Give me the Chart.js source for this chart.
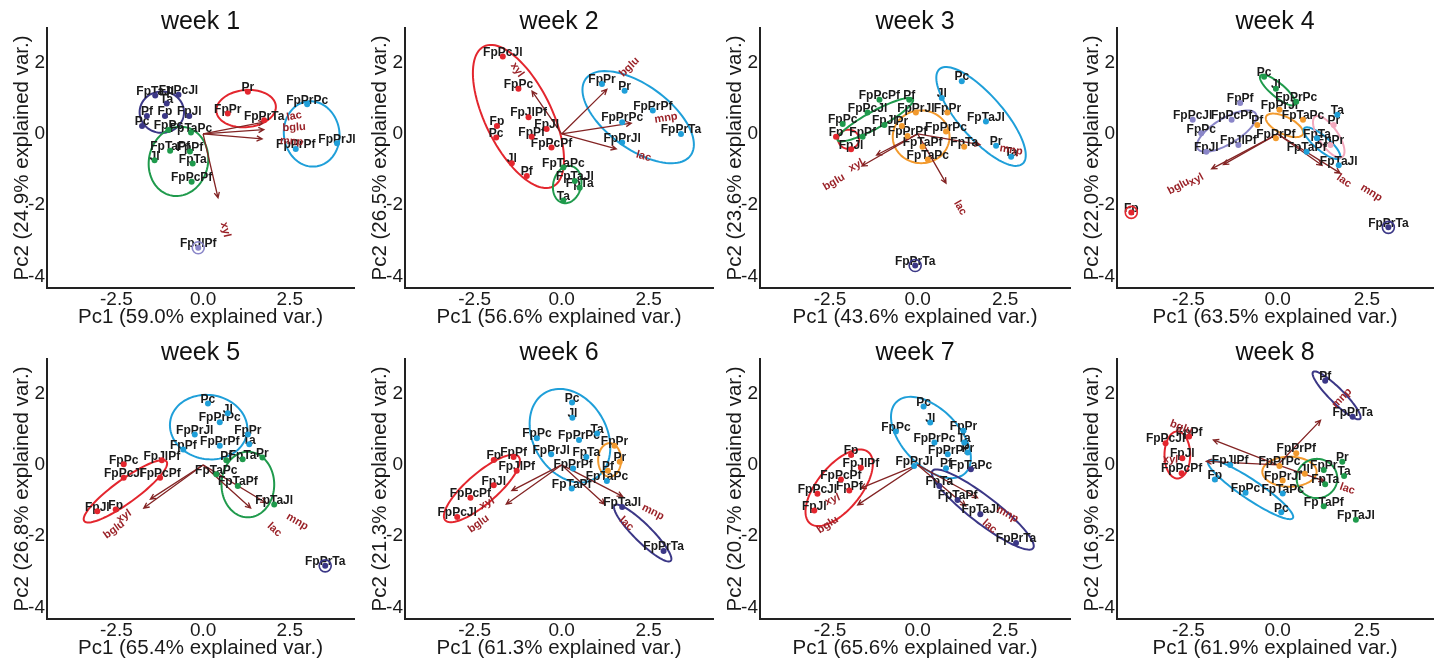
<!DOCTYPE html>
<html>
<head>
<meta charset="utf-8">
<script src="https://cdn.jsdelivr.net/npm/chart.js@4.4.1/dist/chart.umd.min.js"></script>
<style>
  html, body { margin: 0; padding: 0; background: #fff; }
  #figure { position: relative; width: 1437px; height: 661px; overflow: hidden; }
  #figure canvas { position: absolute; }
</style>
</head>
<body>
<div id="figure"></div>
<script>
// panel titles and explained variance
const weeks = ['week 1', 'week 2', 'week 3', 'week 4', 'week 5', 'week 6', 'week 7', 'week 8'];
const pc1Var = ['59.0', '56.6', '43.6', '63.5', '65.4', '61.3', '65.6', '61.9'];
const pc2Var = ['24.9', '26.5', '23.6', '22.0', '26.8', '21.3', '20.7', '16.9'];
const xTicks = [-2.5, 0, 2.5];
const yTicks = [-4, -2, 0, 2];

// samples: [label, cluster, Pc1, Pc2]
const week1Samples = [
  ['FpTaJl', 'k4', -1.38, 1.08], ['FpPcJl', 'k4', -0.71, 1.10], ['Ta', 'k4', -1.05, 0.85],
  ['Pf', 'k4', -1.62, 0.50], ['Fp', 'k4', -1.10, 0.50], ['FpJl', 'k4', -0.40, 0.50], ['Pc', 'k4', -1.76, 0.22],
  ['FpPc', 'k3', -1.00, 0.11], ['FpTaPc', 'k3', -0.35, 0.04], ['FpTaPf', 'k3', -0.95, -0.47],
  ['FpPf', 'k3', -0.38, -0.49], ['Jl', 'k3', -1.40, -0.74], ['FpTa', 'k3', -0.30, -0.83], ['FpPcPf', 'k3', -0.33, -1.34],
  ['Pr', 'k1', 1.29, 1.18], ['FpPr', 'k1', 0.71, 0.57], ['FpPrTa', 'k1', 1.76, 0.38],
  ['FpPrPc', 'k2', 3.00, 0.83], ['FpPrPf', 'k2', 2.67, -0.42], ['FpPrJl', 'k2', 3.86, -0.26],
  ['FpJlPf', 'k6', -0.14, -3.19]
];
const week2Samples = [
  ['FpPcJl', 'k1', -1.69, 2.17], ['FpPc', 'k1', -1.24, 1.27], ['FpJlPf', 'k1', -0.95, 0.47],
  ['Fp', 'k1', -1.86, 0.22], ['Pc', 'k1', -1.88, -0.10], ['FpJl', 'k1', -0.43, 0.14], ['FpPf', 'k1', -0.86, -0.08],
  ['FpPcPf', 'k1', -0.29, -0.38], ['Jl', 'k1', -1.43, -0.82], ['Pf', 'k1', -1.00, -1.18],
  ['FpTaPc', 'k3', 0.05, -0.94], ['FpTaJl', 'k3', 0.38, -1.32], ['FpTa', 'k3', 0.52, -1.51], ['Ta', 'k3', 0.05, -1.87],
  ['FpPr', 'k2', 1.16, 1.40], ['Pr', 'k2', 1.81, 1.21], ['FpPrPc', 'k2', 1.74, 0.33],
  ['FpPrPf', 'k2', 2.62, 0.66], ['FpPrJl', 'k2', 1.74, -0.24], ['FpPrTa', 'k2', 3.43, 0.00]
];
const week3Samples = [
  ['Fp', 'k1', -2.33, -0.08], ['FpJl', 'k1', -1.90, -0.43],
  ['FpPcPf', 'k3', -1.09, 0.96], ['Pf', 'k3', -0.24, 0.96], ['FpPcJl', 'k3', -1.43, 0.60], ['FpPc', 'k3', -2.14, 0.28],
  ['FpJl', 'k3', -0.95, 0.25], ['FpPf', 'k3', -1.57, -0.08],
  ['FpPrJl', 'k5', -0.05, 0.60], ['FpPr', 'k5', 0.85, 0.60], ['Pr', 'k5', -0.45, 0.22], ['FpPrPc', 'k5', 0.81, 0.07],
  ['FpPrPf', 'k5', -0.29, -0.06], ['FpTaPf', 'k5', 0.14, -0.36], ['FpTa', 'k5', 1.33, -0.36], ['FpTaPc', 'k5', 0.29, -0.72],
  ['Pc', 'k2', 1.26, 1.48], ['Jl', 'k2', 0.69, 1.01], ['FpTaJl', 'k2', 1.95, 0.35], ['Pr', 'k2', 2.24, -0.33], ['Ta', 'k2', 2.67, -0.64],
  ['FpPrTa', 'k4', -0.07, -3.69]
];
const week4Samples = [
  ['Pc', 'k3', -0.38, 1.60], ['Jl', 'k3', -0.05, 1.27], ['FpPrPc', 'k3', 0.52, 0.90],
  ['FpPf', 'k6', -1.05, 0.87], ['FpPcJl', 'k6', -2.38, 0.40], ['FpPcPf', 'k6', -1.29, 0.40],
  ['FpPc', 'k6', -2.14, 0.02], ['FpJl', 'k6', -2.00, -0.50], ['FpJlPf', 'k6', -1.10, -0.31],
  ['FpPrJl', 'k5', 0.05, 0.68], ['Pf', 'k5', -0.57, 0.25], ['FpPrPf', 'k5', -0.05, -0.12], ['FpTaPc', 'k5', 0.71, 0.40],
  ['Ta', 'k2', 1.67, 0.54], ['FpTa', 'k2', 1.10, -0.12], ['FpTaPf', 'k2', 0.81, -0.50], ['FpTaJl', 'k2', 1.71, -0.88],
  ['Pr', 'k7', 1.57, 0.25], ['FpPr', 'k7', 1.48, -0.31],
  ['Fp', 'k1', -4.10, -2.20], ['FpPrTa', 'k4', 3.10, -2.62]
];
const week5Samples = [
  ['Pc', 'k2', 0.14, 1.72], ['Jl', 'k2', 0.71, 1.45], ['FpPrPc', 'k2', 0.48, 1.20], ['FpPr', 'k2', 1.29, 0.85],
  ['FpPrJl', 'k2', -0.24, 0.85], ['Ta', 'k2', 1.33, 0.58], ['FpPrPf', 'k2', 0.48, 0.54], ['FpPf', 'k2', -0.57, 0.43],
  ['Pf', 'k3', 0.67, 0.13], ['FpTa', 'k3', 1.14, 0.16], ['Pr', 'k3', 1.71, 0.21], ['FpTaPc', 'k3', 0.38, -0.26],
  ['FpTaPf', 'k3', 1.00, -0.59], ['FpTaJl', 'k3', 2.05, -1.11],
  ['FpPc', 'k1', -2.29, 0.02], ['FpJlPf', 'k1', -1.19, 0.13], ['FpPcJl', 'k1', -2.29, -0.36],
  ['FpPcPf', 'k1', -1.24, -0.36], ['FpJl', 'k1', -3.05, -1.30], ['Fp', 'k1', -2.52, -1.25],
  ['FpPrTa', 'k4', 3.52, -2.83]
];
const week6Samples = [
  ['Pc', 'k2', 0.30, 1.75], ['Jl', 'k2', 0.31, 1.32], ['FpPc', 'k2', -0.71, 0.75], ['FpPrPc', 'k2', 0.50, 0.70],
  ['Ta', 'k2', 1.02, 0.88], ['FpPrJl', 'k2', -0.30, 0.30], ['FpTa', 'k2', 0.71, 0.22], ['FpPrPf', 'k2', 0.33, -0.10],
  ['FpTaPf', 'k2', 0.29, -0.66], ['FpTaPc', 'k2', 1.30, -0.45],
  ['FpPr', 'k5', 1.52, 0.54], ['Pr', 'k5', 1.67, 0.09], ['Pf', 'k5', 1.33, -0.16],
  ['Fp', 'k1', -1.95, 0.14], ['FpPf', 'k1', -1.38, 0.22], ['FpJlPf', 'k1', -1.29, -0.16],
  ['FpJl', 'k1', -1.95, -0.57], ['FpPcPf', 'k1', -2.62, -0.92], ['FpPcJl', 'k1', -3.00, -1.46],
  ['FpTaJl', 'k4', 1.74, -1.18], ['FpPrTa', 'k4', 2.93, -2.41]
];
const week7Samples = [
  ['Pc', 'k2', 0.17, 1.64], ['Jl', 'k2', 0.36, 1.19], ['FpPr', 'k2', 1.31, 0.96], ['FpPc', 'k2', -0.62, 0.94],
  ['FpPrPc', 'k2', 0.48, 0.63], ['Ta', 'k2', 1.33, 0.63], ['FpPrPf', 'k2', 0.86, 0.30], ['Pr', 'k2', 1.43, 0.35],
  ['Pf', 'k2', 0.81, -0.09], ['FpPrJl', 'k2', -0.10, -0.03],
  ['FpTaPc', 'k4', 1.52, -0.12], ['FpTa', 'k4', 0.62, -0.59], ['FpTaPf', 'k4', 1.14, -0.98],
  ['FpTaJl', 'k4', 1.79, -1.38], ['FpPrTa', 'k4', 2.81, -2.19],
  ['Fp', 'k1', -1.90, 0.28], ['FpJlPf', 'k1', -1.62, -0.08], ['FpPcPf', 'k1', -2.19, -0.41],
  ['FpPcJl', 'k1', -2.86, -0.81], ['FpPf', 'k1', -1.95, -0.72], ['FpJl', 'k1', -2.95, -1.28]
];
const week8Samples = [
  ['Pf', 'k4', 1.33, 2.36], ['FpPrTa', 'k4', 2.10, 1.35],
  ['FpPf', 'k1', -2.48, 0.80], ['FpPcJl', 'k1', -3.14, 0.61], ['FpJl', 'k1', -2.67, 0.19], ['FpPcPf', 'k1', -2.69, -0.23],
  ['FpJlPf', 'k2', -1.33, 0.00], ['Fp', 'k2', -1.76, -0.41], ['FpPc', 'k2', -0.90, -0.78],
  ['FpTaPc', 'k2', 0.14, -0.80], ['Pc', 'k2', 0.10, -1.33],
  ['FpPrPf', 'k5', 0.52, 0.33], ['FpPrPc', 'k5', 0.05, -0.03], ['FpPrJl', 'k5', 0.14, -0.44], ['Jl', 'k5', 0.76, -0.25],
  ['FpPr', 'k3', 1.29, -0.14], ['Pr', 'k3', 1.81, 0.09], ['Ta', 'k3', 1.86, -0.31], ['FpTa', 'k3', 1.33, -0.54],
  ['FpTaPf', 'k3', 1.29, -1.16], ['FpTaJl', 'k3', 2.19, -1.54]
];

// cluster ellipses: [cluster, centre Pc1, centre Pc2, semi-axis a, semi-axis b, angle deg]
const week1Ellipses = [['k4', -1.19, 0.61, 0.64, 0.58, 0], ['k3', -0.71, -0.77, 0.98, 0.85, 75],
  ['k1', 1.24, 0.71, 0.86, 0.52, 5], ['k2', 3.13, 0.00, 0.92, 0.80, 100]];
const week2Ellipses = [['k1', -1.24, 0.49, 2.20, 0.95, -63], ['k3', 0.16, -1.42, 0.53, 0.40, 75],
  ['k2', 2.20, 0.47, 1.85, 0.90, -35]];
const week3Ellipses = [['k1', -1.97, -0.15, 0.30, 0.27, 0], ['k3', -1.21, 0.40, 1.22, 0.24, 28],
  ['k5', 0.10, -0.08, 0.81, 0.74, 0], ['k2', 1.81, 0.49, 1.78, 0.62, -48]];
const week4Ellipses = [['k3', 0.00, 1.23, 0.63, 0.19, -40], ['k6', -1.43, 0.08, 0.95, 0.36, 31],
  ['k5', 0.19, 0.24, 0.57, 0.24, -26], ['k2', 1.24, -0.26, 0.65, 0.20, -40], ['k7', 1.43, -0.08, 0.68, 0.27, -56]];
const week5Ellipses = [['k2', 0.16, 1.06, 1.12, 0.90, -8], ['k3', 1.29, -0.55, 0.76, 0.92, 0],
  ['k1', -2.24, -0.74, 1.45, 0.33, 35]];
const week6Ellipses = [['k2', 0.24, 0.82, 1.40, 1.05, -58], ['k5', 1.38, 0.14, 0.33, 0.47, 0],
  ['k1', -2.29, -0.66, 1.38, 0.43, 40], ['k4', 2.33, -1.91, 1.12, 0.25, -44]];
const week7Ellipses = [['k2', 0.38, 0.77, 1.40, 0.80, -45], ['k4', 1.86, -1.25, 1.80, 0.38, -37],
  ['k1', -2.24, -0.64, 1.30, 0.62, 50]];
const week8Ellipses = [['k4', 1.65, 1.95, 0.93, 0.20, -45], ['k1', -2.81, 0.28, 0.36, 0.66, 0],
  ['k2', -0.76, -0.69, 1.43, 0.27, -34], ['k5', 0.33, -0.19, 0.76, 0.42, 0], ['k3', 1.10, -0.38, 0.57, 0.55, 0]];

// variable loadings: [variable, Pc1, Pc2]
const week1Loadings = [['lac', 1.75, 0.33], ['bglu', 1.75, 0.12], ['mnp', 1.70, -0.14], ['xyl', 0.43, -1.79]];
const week2Loadings = [['bglu', 1.30, 1.25], ['xyl', -0.85, 1.20], ['mnp', 2.00, 0.30], ['lac', 1.57, -0.42]];
const week3Loadings = [['bglu', -1.59, -0.90], ['xyl', -1.17, -0.59], ['lac', 0.81, -1.38], ['mnp', 1.78, -0.30]];
const week4Loadings = [['bglu', -1.85, -0.98], ['xyl', -1.52, -0.86], ['lac', 1.24, -0.88], ['mnp', 1.75, -1.10]];
const week5Loadings = [['bglu', -1.71, -1.21], ['xyl', -1.52, -0.96], ['mnp', 1.81, -1.06], ['lac', 1.37, -1.21]];
const week6Loadings = [['bglu', -1.59, -1.10], ['xyl', -1.43, -0.72], ['mnp', 1.75, -0.88], ['lac', 1.24, -1.10]];
const week7Loadings = [['bglu', -1.71, -1.12], ['xyl', -1.62, -0.65], ['mnp', 1.71, -0.92], ['lac', 1.37, -1.15]];
const week8Loadings = [['bglu', -1.80, 0.70], ['xyl', -2.00, 0.10], ['mnp', 1.20, 1.25], ['lac', 1.30, -0.45]];

const samplesByWeek = [week1Samples, week2Samples, week3Samples, week4Samples,
  week5Samples, week6Samples, week7Samples, week8Samples];
const ellipsesByWeek = [week1Ellipses, week2Ellipses, week3Ellipses, week4Ellipses,
  week5Ellipses, week6Ellipses, week7Ellipses, week8Ellipses];
const loadingsByWeek = [week1Loadings, week2Loadings, week3Loadings, week4Loadings,
  week5Loadings, week6Loadings, week7Loadings, week8Loadings];

const clusterColors = {
  k1: '#e3262e', k2: '#1f9fd9', k3: '#1f9a4c', k4: '#3b3786',
  k5: '#f29a2e', k6: '#8a86c8', k7: '#f2a8bd'
};
const FONT = '"Liberation Sans", Arial, Helvetica, sans-serif';
const ARROW = '#832424';
const VARLABEL = '#9a2228';
const INK = '#1a1a1a';

const panelLeft = [2, 360, 715, 1072];
const panelWidth = [356, 357, 359, 365];
const rowTop = [0, 331];

// ellipses, loading arrows and text labels drawn through the chart scales
function makeLayers(samples, ellipses, loadings) {
  const counts = {};
  samples.forEach(s => { counts[s[1]] = (counts[s[1]] || 0) + 1; });
  return {
    id: 'biplotLayers',
    beforeDatasetsDraw(chart) {
      const { ctx, scales: { x, y } } = chart;
      ctx.save();
      ctx.lineWidth = 2;
      ellipses.forEach(([k, cx, cy, a, b, deg]) => {
        const t = deg * Math.PI / 180;
        ctx.beginPath();
        for (let i = 0; i <= 96; i++) {
          const u = i / 96 * Math.PI * 2;
          const ex = cx + a * Math.cos(u) * Math.cos(t) - b * Math.sin(u) * Math.sin(t);
          const ey = cy + a * Math.cos(u) * Math.sin(t) + b * Math.sin(u) * Math.cos(t);
          const px = x.getPixelForValue(ex), py = y.getPixelForValue(ey);
          if (i === 0) ctx.moveTo(px, py); else ctx.lineTo(px, py);
        }
        ctx.closePath();
        ctx.strokeStyle = clusterColors[k];
        ctx.stroke();
      });

      const ox = x.getPixelForValue(0), oy = y.getPixelForValue(0);
      ctx.strokeStyle = ARROW;
      ctx.lineWidth = 1.3;
      loadings.forEach(([name, lx, ly]) => {
        const tx = x.getPixelForValue(lx), ty = y.getPixelForValue(ly);
        const ang = Math.atan2(ty - oy, tx - ox);
        ctx.beginPath();
        ctx.moveTo(ox, oy);
        ctx.lineTo(tx, ty);
        ctx.moveTo(tx - 6 * Math.cos(ang - 0.45), ty - 6 * Math.sin(ang - 0.45));
        ctx.lineTo(tx, ty);
        ctx.lineTo(tx - 6 * Math.cos(ang + 0.45), ty - 6 * Math.sin(ang + 0.45));
        ctx.stroke();
      });

      ctx.font = 'bold 12px ' + FONT;
      ctx.textAlign = 'center';
      ctx.textBaseline = 'middle';
      ctx.fillStyle = INK;
      samples.forEach(([name, k, sx, sy]) => {
        ctx.fillText(name, x.getPixelForValue(sx), y.getPixelForValue(sy) - 4);
      });

      ctx.font = 'bold 11px ' + FONT;
      ctx.fillStyle = VARLABEL;
      loadings.forEach(([name, lx, ly]) => {
        const tx = x.getPixelForValue(lx), ty = y.getPixelForValue(ly);
        const px = x.getPixelForValue(lx * 1.5), py = y.getPixelForValue(ly * 1.5);
        ctx.save();
        ctx.translate(px, py);
        ctx.rotate(Math.atan((ty - oy) / (tx - ox)));
        ctx.fillText(name, 0, 0);
        ctx.restore();
      });
      ctx.restore();
    },
    afterDatasetsDraw(chart) {
      const { ctx, scales: { x, y } } = chart;
      ctx.save();
      ctx.lineWidth = 1.6;
      samples.filter(s => counts[s[1]] === 1).forEach(([name, k, sx, sy]) => {
        ctx.beginPath();
        ctx.arc(x.getPixelForValue(sx), y.getPixelForValue(sy), 6, 0, Math.PI * 2);
        ctx.strokeStyle = clusterColors[k];
        ctx.stroke();
      });
      ctx.restore();
    }
  };
}

const fig = document.getElementById('figure');

weeks.forEach((title, i) => {
  const col = i % 4, row = Math.floor(i / 4);
  const canvas = document.createElement('canvas');
  canvas.width = panelWidth[col];
  canvas.height = 330;
  canvas.style.left = panelLeft[col] + 'px';
  canvas.style.top = rowTop[row] + 'px';
  fig.appendChild(canvas);

  const samples = samplesByWeek[i];
  const clusters = [...new Set(samples.map(s => s[1]))];

  new Chart(canvas, {
    type: 'scatter',
    data: {
      datasets: clusters.map(k => ({
        label: k,
        data: samples.filter(s => s[1] === k).map(s => ({ x: s[2], y: s[3] })),
        backgroundColor: clusterColors[k],
        borderWidth: 0,
        pointRadius: 3
      }))
    },
    options: {
      responsive: false,
      animation: false,
      layout: { padding: 0 },
      plugins: {
        legend: { display: false },
        tooltip: { enabled: false },
        title: {
          display: true, text: title, fullSize: false, color: '#111',
          font: { family: FONT, size: 25, weight: 'normal', lineHeight: 1.2 },
          padding: { top: 7, bottom: -9 }
        }
      },
      scales: {
        x: {
          type: 'linear', min: -4.5, max: 4.35,
          grid: { display: false, drawTicks: false, tickLength: 0 },
          border: { display: true, color: '#222', width: 2 },
          afterBuildTicks: s => { s.ticks = xTicks.map(v => ({ value: v })); },
          afterFit: s => { s.height = 42; },
          ticks: {
            color: INK, padding: 0, maxRotation: 0, autoSkip: false,
            font: { family: FONT, size: 19 },
            callback: v => v.toFixed(1)
          },
          title: {
            display: true, text: 'Pc1 (' + pc1Var[i] + '% explained var.)', color: INK,
            font: { family: FONT, size: 20.5 }, padding: 0
          }
        },
        y: {
          type: 'linear', min: -4.32, max: 2.97,
          grid: { display: false, drawTicks: false, tickLength: 0 },
          border: { display: true, color: '#222', width: 2 },
          afterBuildTicks: s => { s.ticks = yTicks.map(v => ({ value: v })); },
          afterFit: s => { s.width = 45; },
          ticks: {
            color: INK, padding: 2, autoSkip: false,
            font: { family: FONT, size: 19 },
            callback: v => String(v)
          },
          title: {
            display: true, text: 'Pc2 (' + pc2Var[i] + '% explained var.)', color: INK,
            font: { family: FONT, size: 20.5 }, padding: { top: 8, bottom: 0 }
          }
        }
      }
    },
    plugins: [makeLayers(samples, ellipsesByWeek[i], loadingsByWeek[i])]
  });
});
</script>
</body>
</html>
